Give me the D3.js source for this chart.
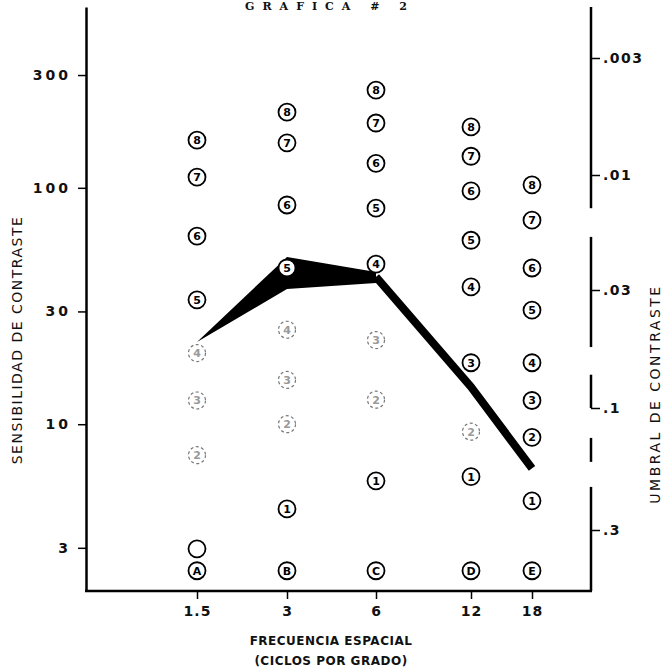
<!DOCTYPE html>
<html>
<head>
<meta charset="utf-8">
<script src="https://cdnjs.cloudflare.com/ajax/libs/d3/7.8.5/d3.min.js"></script>
<style>
  body { margin: 0; background: #fff; }
  svg { display: block; }
  text { font-family: "DejaVu Sans", sans-serif; fill: #111; }
</style>
</head>
<body>
<div id="chart"></div>
<script>
// frequencies (cycles per degree) and labels
const freqs = [1.5, 3, 6, 12, 18];
const freqLabels = ['1.5', '3', '6', '12', '18'];
const columnLetters = ['A', 'B', 'C', 'D', 'E'];
const letterRow = 2.4;

// contrast sensitivity of each numbered plate (1..8), one list per frequency
const levels = [1, 2, 3, 4, 5, 6, 7, 8];
const sens15 = [2.97, 7.4, 12.6, 20.0, 33.6, 62.5, 111, 159];
const sens3  = [4.38, 10.0, 15.4, 25.1, 45.8, 84.6, 155, 209];
const sens6  = [5.76, 12.7, 22.7, 47.6, 82, 127, 188, 259];
const sens12 = [6.0, 9.3, 18.2, 38.1, 60, 97, 136, 181];
const sens18 = [4.74, 8.8, 12.6, 18.2, 30.4, 45.8, 73, 103];
const faintMarks = ['1.5-2', '1.5-3', '1.5-4', '3-2', '3-3', '3-4', '6-2', '6-3', '12-2'];
const blankMarks = ['1.5-1'];

// black band + curve
const bandFreqs = [1.5, 3, 6];
const bandUpper = [22.3, 51, 44];
const bandLower = [22.3, 37.3, 39.6];
const curveFreqs = [6, 12, 18];
const curveSens = [42, 14.4, 6.5];

const leftTicks = [3, 10, 30, 100, 300];
const rightTicks = [0.003, 0.01, 0.03, 0.1, 0.3];
const rightTickLabels = ['.003', '.01', '.03', '.1', '.3'];
// broken right axis, pieces given in sensitivity units
const rightPieces = [[582, 82], [62, 21.2], [16.2, 11.7], [8.75, 6.93], [5.43, 1.97]];

const W = 671, H = 669;
const L = 86, R = 591, T = 7, B = 591;

const svg = d3.select('#chart').append('svg')
  .attr('width', W).attr('height', H);

const x = d3.scaleLog().domain(freqs).range([197, 287, 376, 471, 532]);
const y = d3.scaleLog().domain([1.97, 582]).range([B, T]);
const yR = d3.scaleLog().domain(rightTicks).range([58, 175, 290, 408, 530]);

const allSens = [sens15, sens3, sens6, sens12, sens18];
const points = [];
freqs.forEach((f, i) => {
  levels.forEach((lv, j) => {
    const key = f + '-' + lv;
    points.push({ f: f, s: allSens[i][j], label: blankMarks.includes(key) ? '' : String(lv),
      faint: faintMarks.includes(key) });
  });
  points.push({ f: f, s: letterRow, label: columnLetters[i], faint: false, letter: true });
});

// title
svg.append('text')
  .attr('x', 330).attr('y', 10)
  .attr('text-anchor', 'middle')
  .style('font-family', '"DejaVu Serif", serif')
  .style('font-size', '11px')
  .style('font-weight', 'bold')
  .style('letter-spacing', '8px')
  .text('GRAFICA # 2');

// band + curve
const band = d3.area()
  .x((d, i) => x(bandFreqs[i]))
  .y0((d, i) => y(bandLower[i]))
  .y1((d, i) => y(bandUpper[i]));
svg.append('path')
  .datum(bandFreqs)
  .attr('d', band)
  .attr('fill', '#000');

svg.append('path')
  .datum(curveFreqs)
  .attr('d', d3.line().x(d => x(d)).y((d, i) => y(curveSens[i])))
  .attr('fill', 'none')
  .attr('stroke', '#000')
  .attr('stroke-width', 8)
  .attr('stroke-linejoin', 'round');

// circles
const marks = svg.append('g').selectAll('g')
  .data(points)
  .enter()
  .append('g')
  .attr('transform', d => 'translate(' + x(d.f) + ',' + y(d.s) + ')');

marks.append('circle')
  .attr('r', 8.5)
  .attr('fill', '#fff')
  .attr('stroke', d => d.faint ? '#777' : '#000')
  .attr('stroke-width', d => d.faint ? 1.2 : 1.8)
  .attr('stroke-dasharray', d => d.faint ? '3,2.5' : null);

marks.append('text')
  .attr('text-anchor', 'middle')
  .attr('dy', '0.36em')
  .style('font-size', '11px')
  .style('font-weight', 'bold')
  .style('fill', d => d.faint ? '#999' : '#000')
  .text(d => d.label);

// left axis
const yAxis = d3.axisLeft(y)
  .tickValues(leftTicks)
  .tickSize(8)
  .tickSizeOuter(0)
  .tickPadding(7)
  .tickFormat(d3.format('d'));

const gy = svg.append('g')
  .attr('transform', 'translate(' + L + ',0)')
  .call(yAxis);
gy.select('.domain').attr('stroke-width', 2.5);
gy.selectAll('.tick line').attr('stroke-width', 1.5);
gy.selectAll('.tick text')
  .style('font-size', '14px').style('font-weight', 'bold')
  .style('letter-spacing', '3px').attr('fill', '#111');

// right axis (broken line)
svg.append('g').selectAll('line')
  .data(rightPieces)
  .enter()
  .append('line')
  .attr('x1', R).attr('x2', R)
  .attr('y1', d => y(d[0])).attr('y2', d => y(d[1]))
  .attr('stroke', '#000').attr('stroke-width', 2.5);

const yAxisR = d3.axisRight(yR)
  .tickValues(rightTicks)
  .tickSize(9)
  .tickPadding(3)
  .tickFormat((d, i) => rightTickLabels[i]);
const gr = svg.append('g')
  .attr('transform', 'translate(' + R + ',0)')
  .call(yAxisR);
gr.select('.domain').remove();
gr.selectAll('.tick line').attr('stroke-width', 1.5);
gr.selectAll('.tick text')
  .style('font-size', '14px').style('font-weight', 'bold')
  .style('letter-spacing', '1.5px').attr('fill', '#111');

// bottom axis
svg.append('line')
  .attr('x1', L - 1).attr('x2', R + 1)
  .attr('y1', B).attr('y2', B)
  .attr('stroke', '#000').attr('stroke-width', 2.5);

const xAxis = d3.axisBottom(x)
  .tickValues(freqs)
  .tickSize(8)
  .tickPadding(7)
  .tickFormat((d, i) => freqLabels[i]);
const gx = svg.append('g')
  .attr('transform', 'translate(0,' + B + ')')
  .call(xAxis);
gx.select('.domain').remove();
gx.selectAll('.tick line').attr('stroke-width', 1.5);
gx.selectAll('.tick text')
  .style('font-size', '14px').style('font-weight', 'bold')
  .style('letter-spacing', '1px').attr('fill', '#111');

// axis titles
svg.append('text')
  .attr('transform', 'translate(22,340) rotate(-90)')
  .attr('text-anchor', 'middle')
  .style('font-size', '14px')
  .style('letter-spacing', '1.5px')
  .text('SENSIBILIDAD DE CONTRASTE');

svg.append('text')
  .attr('transform', 'translate(660,394) rotate(-90)')
  .attr('text-anchor', 'middle')
  .style('font-size', '14px')
  .style('letter-spacing', '2.5px')
  .text('UMBRAL DE CONTRASTE');

svg.append('text')
  .attr('x', 331).attr('y', 645)
  .attr('text-anchor', 'middle')
  .style('font-size', '12px').style('font-weight', 'bold')
  .style('letter-spacing', '0.5px')
  .text('FRECUENCIA ESPACIAL');

svg.append('text')
  .attr('x', 331).attr('y', 665)
  .attr('text-anchor', 'middle')
  .style('font-size', '12px').style('font-weight', 'bold')
  .style('letter-spacing', '0.5px')
  .text('(CICLOS POR GRADO)');
</script>
</body>
</html>
